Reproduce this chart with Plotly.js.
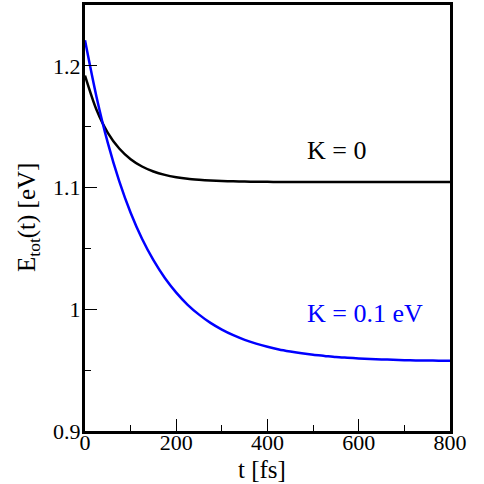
<!DOCTYPE html>
<html>
<head>
<meta charset="utf-8">
<script src="https://cdn.plot.ly/plotly-3.0.1.min.js"></script>
<style>html,body{margin:0;padding:0;background:#fff;}#chart{width:484px;height:484px;}</style>
</head>
<body>
<div id="chart"></div>
<script>
const timeFs = [0, 25, 50, 75, 100, 125, 150, 175, 200, 225, 250, 275, 300, 325, 350, 375, 400, 425, 450, 475, 500, 525, 550, 575, 600, 625, 650, 675, 700, 725, 750, 775, 800];
const energyK0 = [1.1920, 1.1641, 1.1450, 1.1321, 1.1233, 1.1173, 1.1132, 1.1104, 1.1085, 1.1072, 1.1064, 1.1058, 1.1054, 1.1051, 1.1049, 1.1048, 1.1047, 1.1046, 1.1046, 1.1046, 1.1045, 1.1045, 1.1045, 1.1045, 1.1045, 1.1045, 1.1045, 1.1045, 1.1045, 1.1045, 1.1045, 1.1045, 1.1045];
const energyK01 = [1.2210, 1.1749, 1.1367, 1.1053, 1.0793, 1.0579, 1.0403, 1.0257, 1.0137, 1.0037, 0.9956, 0.9888, 0.9833, 0.9787, 0.9749, 0.9718, 0.9692, 0.9670, 0.9653, 0.9638, 0.9626, 0.9617, 0.9608, 0.9602, 0.9596, 0.9592, 0.9588, 0.9585, 0.9582, 0.9580, 0.9579, 0.9578, 0.9577];
const labelK0 = "K = 0";
const labelK01 = "K = 0.1 eV";
const xTitle = "t [fs]";
const yTitle = "E<sub>tot</sub>(t) [eV]";

const font = '"Liberation Serif", "Times New Roman", Times, serif';

const traces = [
  {x: timeFs, y: energyK0, mode: "lines", line: {color: "#000000", width: 2.5, shape: "spline", smoothing: 0.8}, hoverinfo: "skip"},
  {x: timeFs, y: energyK01, mode: "lines", line: {color: "#0000ff", width: 2.5, shape: "spline", smoothing: 0.8}, hoverinfo: "skip"}
];

const axisCommon = {
  showgrid: false, zeroline: false,
  showline: true, linecolor: "#000", linewidth: 3, mirror: true,
  ticks: "inside", ticklen: 12, tickwidth: 1, tickcolor: "#000",
  tickfont: {family: font, size: 22, color: "#000"}
};

const layout = {
  width: 484, height: 484,
  margin: {l: 85, r: 34, t: 5, b: 53},
  paper_bgcolor: "#fff", plot_bgcolor: "#fff",
  showlegend: false,
  xaxis: Object.assign({}, axisCommon, {
    range: [0, 800], tickvals: [0, 200, 400, 600, 800], ticktext: ["0", "200", "400", "600", "800"],
    ticklabelstandoff: -10,
    minor: {tickvals: [100, 300, 500, 700], ticks: "inside", ticklen: 6, tickwidth: 1, tickcolor: "#000"}
  }),
  yaxis: Object.assign({}, axisCommon, {
    range: [0.9, 1.25], tickvals: [0.9, 1.0, 1.1, 1.2], ticktext: ["0.9", "1", "1.1", "1.2"],
    ticklabelstandoff: -3,
    minor: {tickvals: [0.95, 1.05, 1.15], ticks: "inside", ticklen: 6, tickwidth: 1, tickcolor: "#000"}
  }),
  annotations: [
    {x: 482, y: 1.1307, xref: "x", yref: "y", xanchor: "left", yanchor: "middle", showarrow: false,
     text: labelK0, font: {family: font, size: 26, color: "#000"}},
    {x: 482, y: 0.9967, xref: "x", yref: "y", xanchor: "left", yanchor: "middle", showarrow: false,
     text: labelK01, font: {family: font, size: 26, color: "#0000ff"}},
    {x: 0.485, y: 0, xref: "paper", yref: "paper", xanchor: "center", yanchor: "middle", yshift: -38,
     showarrow: false, text: xTitle, font: {family: font, size: 25, color: "#000"}},
    {x: 0, y: 0.5, xref: "paper", yref: "paper", xanchor: "center", yanchor: "middle", xshift: -57,
     textangle: -90, showarrow: false, text: yTitle, font: {family: font, size: 25, color: "#000"}}
  ]
};

Plotly.newPlot("chart", traces, layout, {staticPlot: true, displayModeBar: false});
</script>
</body>
</html>
